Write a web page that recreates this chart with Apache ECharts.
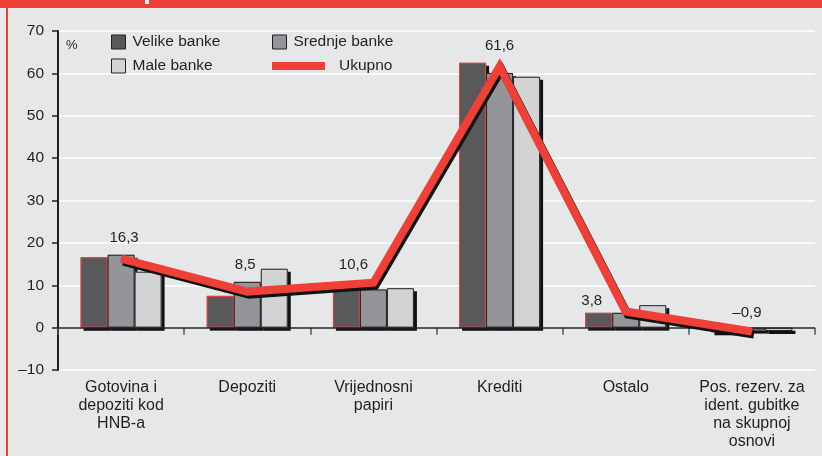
<!DOCTYPE html>
<html>
<head>
<meta charset="utf-8">
<script src="https://cdn.jsdelivr.net/npm/echarts@6/dist/echarts.min.js"></script>
<style>
  html, body { margin: 0; padding: 0; background: #e6e7e8; }
  #chart { width: 822px; height: 456px; }
</style>
</head>
<body>
<div id="chart"></div>
<script>
var categories = [
    'Gotovina i\ndepoziti kod\nHNB-a',
    'Depoziti',
    'Vrijednosni\npapiri',
    'Krediti',
    'Ostalo',
    'Pos. rezerv. za\nident. gubitke\nna skupnoj\nosnovi'
];
var velike = [16.6, 7.5, 9.4, 62.5, 3.5, -1.1];
var srednje = [17.2, 10.8, 9.0, 60.1, 3.5, -0.7];
var male = [13.2, 13.9, 9.3, 59.2, 5.3, -0.8];
var ukupno = [16.3, 8.5, 10.6, 61.6, 3.8, -0.9];
var yTicks = { min: -10, max: 70, step: 10 };

// label nudges for the Ukupno values (pixels)
var labelOffsets = [[3, -8], [-2, -14], [-20, -5], [0, -8], [-34, 2], [-5, -6]];

var RED = '#ee4036';
var INK = '#231f20';
var FONT = 'Liberation Sans, Arial, sans-serif';

function fmt(v) {
    var s = String(Math.abs(v)).replace('.', ',');
    return v < 0 ? '\u2013' + s : s;
}

var chart = echarts.init(document.getElementById('chart'));

// filled bar with a hard drop shadow (no stroke, so the shadow stays outside)
function barSeries(name, values, color) {
    return {
        name: name,
        type: 'bar',
        data: values,
        barWidth: 27,
        barGap: '0%',
        itemStyle: {
            color: color,
            shadowColor: '#111',
            shadowOffsetX: 3,
            shadowOffsetY: 3,
            shadowBlur: 0
        }
    };
}

// outline only, drawn on a twin axis so it lands on the same spot
function outlineSeries(values, border) {
    return {
        type: 'bar',
        xAxisIndex: 1,
        data: values,
        barWidth: 27,
        barGap: '0%',
        silent: true,
        itemStyle: { color: 'transparent', borderColor: border, borderWidth: 1 },
        z: 3
    };
}

function legendAt(name, left, top, opts) {
    return Object.assign({
        data: [name],
        left: left,
        top: top,
        padding: 0,
        itemWidth: 14,
        itemHeight: 14,
        selectedMode: false,
        icon: 'rect',
        itemStyle: { borderColor: INK, borderWidth: 1, shadowColor: 'transparent' },
        textStyle: { fontFamily: FONT, fontSize: 15.5, color: INK, padding: [0, 0, 0, 2] }
    }, opts || {});
}

var lineData = ukupno.map(function (v, i) {
    return { value: v, label: { offset: labelOffsets[i] } };
});

var velikeSeries = barSeries('Velike banke', velike, '#58595b');
velikeSeries.markLine = {
    silent: true,
    symbol: 'none',
    label: { show: false },
    lineStyle: { color: INK, width: 1.5, type: 'solid' },
    data: [{ yAxis: 0 }]
};

var option = {
    backgroundColor: '#e6e7e8',
    animation: false,
    textStyle: { fontFamily: FONT },
    grid: { left: 58, right: 7, top: 31, bottom: 86 },
    legend: [
        legendAt('Velike banke', 111, 34),
        legendAt('Srednje banke', 272, 34),
        legendAt('Male banke', 111, 58),
        legendAt('Ukupno', 272, 58, {
            itemWidth: 53,
            itemHeight: 8,
            itemStyle: { color: RED, borderWidth: 0, shadowColor: 'transparent' },
            textStyle: { fontFamily: FONT, fontSize: 15.5, color: INK, padding: [0, 0, 0, 9] }
        })
    ],
    xAxis: [{
        type: 'category',
        data: categories,
        axisLine: { show: false },
        axisTick: { show: true, length: 7, lineStyle: { color: '#555', width: 1.5 } },
        axisLabel: {
            color: INK,
            fontSize: 16,
            lineHeight: 18,
            margin: 9,
            interval: 0
        }
    }, {
        type: 'category',
        data: categories,
        show: false
    }],
    yAxis: {
        type: 'value',
        min: yTicks.min,
        max: yTicks.max,
        interval: yTicks.step,
        axisLine: { show: true, onZero: false, lineStyle: { color: INK, width: 2 } },
        axisTick: { show: true, length: 6, lineStyle: { color: INK, width: 1.5 } },
        axisLabel: { color: INK, fontSize: 15.5, margin: 14, formatter: fmt },
        splitLine: { show: true, lineStyle: { color: '#ffffff', width: 1.5 } }
    },
    series: [
        velikeSeries,
        barSeries('Srednje banke', srednje, '#939598'),
        barSeries('Male banke', male, '#d1d3d4'),
        outlineSeries(velike, RED),
        outlineSeries(srednje, INK),
        outlineSeries(male, INK),
        {
            name: 'Ukupno',
            type: 'line',
            data: lineData,
            symbol: 'circle',
            symbolSize: 1,
            itemStyle: { color: RED },
            lineStyle: {
                color: RED,
                width: 8,
                join: 'miter',
                shadowColor: '#111',
                shadowOffsetX: 2,
                shadowOffsetY: 3,
                shadowBlur: 0
            },
            label: {
                show: true,
                position: 'top',
                distance: 5,
                color: INK,
                fontSize: 15,
                formatter: function (p) { return fmt(p.value); }
            },
            z: 5
        }
    ],
    graphic: [
        { type: 'rect', left: 0, top: 0, shape: { width: 6, height: 456 }, style: { fill: '#ebebec' }, silent: true },
        { type: 'rect', left: 6, top: 0, shape: { width: 2, height: 456 }, style: { fill: RED }, silent: true },
        { type: 'rect', left: 0, top: 0, shape: { width: 822, height: 8 }, style: { fill: RED }, silent: true },
        { type: 'rect', left: 145, top: 0, shape: { width: 4, height: 4 }, style: { fill: '#ffffff' }, silent: true },
        { type: 'text', left: 66, top: 39, style: { text: '%', fill: INK, font: '13px ' + FONT }, silent: true }
    ]
};

chart.setOption(option);
</script>
</body>
</html>
